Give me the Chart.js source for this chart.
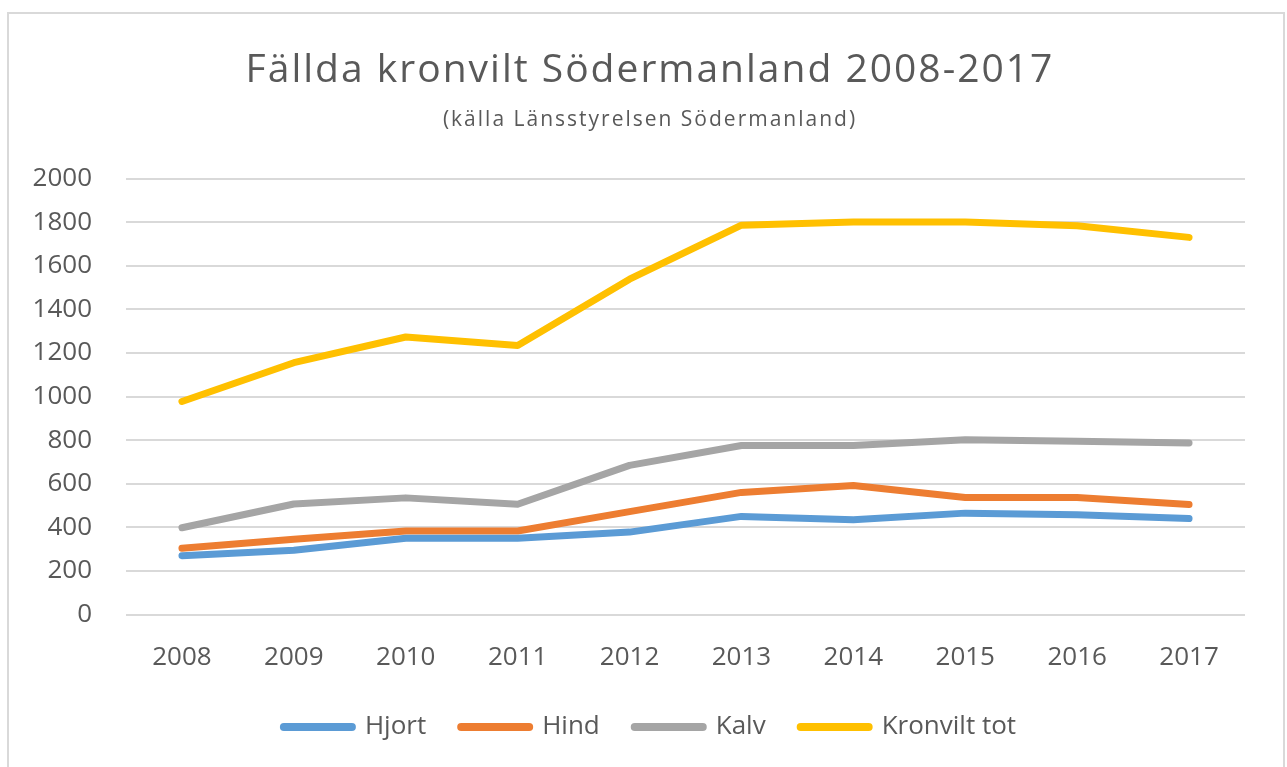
<!DOCTYPE html>
<html>
<head>
<meta charset="utf-8">
<script src="https://cdn.jsdelivr.net/npm/chart.js@4.4.1/dist/chart.umd.min.js"></script>
<style>
  html, body { margin: 0; padding: 0; background: #ffffff; }
  #wrap { position: relative; width: 1287px; height: 767px; overflow: hidden; }
  #frame { position: absolute; left: 7px; top: 12px; width: 1278px; height: 800px;
           border: 2px solid #D9D9D9; border-bottom: none; box-sizing: border-box; }
  #c { position: absolute; left: 0; top: 0; }
</style>
</head>
<body>
<div id="wrap">
  <div id="frame"></div>
  <canvas id="c" width="1287" height="767"></canvas>
</div>
<script>
const years = ['2008','2009','2010','2011','2012','2013','2014','2015','2016','2017'];
const hjort = [270, 295, 350, 350, 378, 450, 435, 465, 458, 440];
const hind = [304, 345, 383, 383, 472, 560, 592, 537, 537, 505];
const kalv = [398, 507, 535, 506, 684, 775, 775, 802, 795, 787];
const kronviltTot = [977, 1155, 1273, 1234, 1538, 1786, 1801, 1801, 1783, 1730];

const titleText = 'Fällda kronvilt Södermanland 2008-2017';
const subtitleText = '(källa Länsstyrelsen Södermanland)';
const textColor = '#595959';
const fontFam = "'Open Sans', 'DejaVu Sans', sans-serif";

function ds(label, data, color) {
  return {
    label, data,
    borderColor: color, backgroundColor: color,
    borderWidth: 7, borderCapStyle: 'round', borderJoinStyle: 'round',
    pointRadius: 0, pointHoverRadius: 0, tension: 0, fill: false
  };
}

const chart = new Chart(document.getElementById('c'), {
  type: 'line',
  data: {
    labels: years,
    datasets: [
      ds('Hjort', hjort, '#5B9BD5'),
      ds('Hind', hind, '#ED7D31'),
      ds('Kalv', kalv, '#A5A5A5'),
      ds('Kronvilt tot', kronviltTot, '#FFC000')
    ]
  },
  options: {
    responsive: false,
    animation: false,
    devicePixelRatio: 1,
    layout: { padding: { left: 27, right: 14, top: 0, bottom: 17 } },
    plugins: {
      title: {
        display: true,
        text: titleText,
        color: textColor,
        font: { family: fontFam, size: 39, weight: 'normal', lineHeight: 1.2 },
        padding: { top: 47, bottom: 14 }
      },
      subtitle: {
        display: true,
        text: subtitleText,
        color: textColor,
        font: { family: fontFam, size: 21, weight: 'normal', lineHeight: 1.2 },
        padding: { top: 0, bottom: 45.5 }
      },
      legend: {
        display: true,
        position: 'bottom',
        labels: {
          usePointStyle: true,
          pointStyle: 'line',
          pointStyleWidth: 68,
          color: textColor,
          font: { family: fontFam, size: 26 },
          padding: 35,
          generateLabels: (ch) => {
            const items = Chart.defaults.plugins.legend.labels.generateLabels(ch);
            items.forEach(it => { it.lineWidth = 8; it.lineCap = 'round'; it.pointStyle = 'line'; });
            return items;
          }
        }
      },
      tooltip: { enabled: false }
    },
    scales: {
      x: {
        offset: true,
        afterFit: (s) => { s.height = 64.5; },
        grid: { display: false, drawTicks: false },
        border: { display: false },
        ticks: {
          color: textColor,
          font: { family: fontFam, size: 26 },
          padding: 27,
          maxRotation: 0
        }
      },
      y: {
        min: 0, max: 2000,
        afterFit: (s) => { s.width = 99; },
        grid: { color: '#D9D9D9', lineWidth: 2, drawTicks: false },
        border: { display: false },
        ticks: {
          stepSize: 200,
          color: textColor,
          font: { family: fontFam, size: 26 },
          padding: 34,
          callback: (v) => String(v)
        }
      },
      yRight: {
        type: 'linear',
        position: 'right',
        min: 0, max: 2000,
        afterFit: (s) => { s.width = 28; },
        grid: { display: false, drawTicks: false },
        border: { display: false },
        ticks: { display: false }
      }
    }
  }
});

// widen title and subtitle letter spacing to match the reference's stretched text
chart.boxes.forEach(b => {
  if (b.options && (b.options.text === titleText || b.options.text === subtitleText)) {
    const orig = b.draw.bind(b);
    b.draw = function () {
      const ctx = this.ctx;
      ctx.save();
      try { ctx.letterSpacing = '2px'; } catch (e) {}
      orig();
      ctx.restore();
    };
  }
});
chart.draw();
</script>
</body>
</html>
